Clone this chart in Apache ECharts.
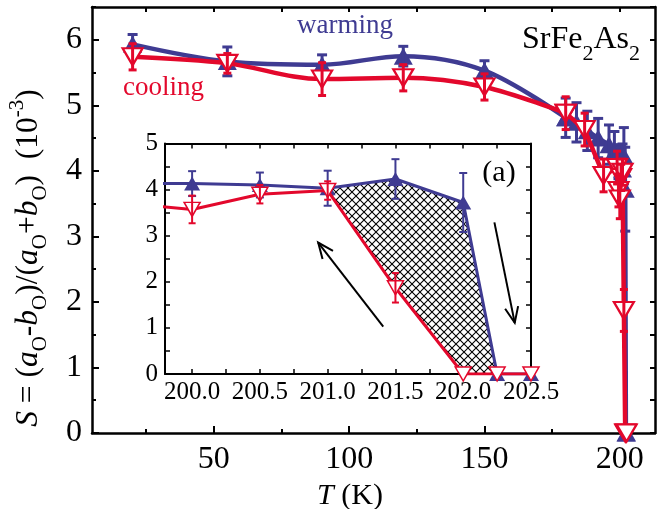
<!DOCTYPE html>
<html><head><meta charset="utf-8">
<script src="https://cdn.jsdelivr.net/npm/echarts@6/dist/echarts.min.js"></script>
<style>html,body{margin:0;padding:0;background:#fff}#c{width:658px;height:509px}</style>
</head><body><div id="c"></div>
<script>
// ---- data (T in K, S in 10^-3) ----
const warmT   = [20, 55, 90, 120, 150, 180, 184, 188, 192, 196, 198, 199.5, 200, 200.5, 201, 201.5, 202, 202.25, 202.5];
const warmS   = [5.93, 5.67, 5.62, 5.75, 5.53, 4.81, 4.74, 4.61, 4.5, 4.4, 4.3, 4.13, 4.13, 4.1, 4.03, 4.23, 3.72, 0, 0];
const warmErr = [0.15, 0.22, 0.15, 0.15, 0.15, 0.3, 0.3, 0.3, 0.3, 0.3, 0.3, 0.25, 0.27, 0.27, 0.38, 0.43, 0.64, 0, 0];
const coolT   = [20, 55, 90, 120, 150, 180, 187, 194, 199, 199.5, 200, 200.5, 201, 201.5, 202, 202.25, 202.5];
const coolS   = [5.74, 5.64, 5.4, 5.42, 5.28, 4.88, 4.63, 3.93, 4.05, 3.7, 3.57, 3.9, 3.98, 1.87, 0, 0, 0];
const coolErr = [0.2, 0.15, 0.25, 0.2, 0.2, 0.25, 0.25, 0.25, 0.25, 0.25, 0.3, 0.2, 0.2, 0.32, 0, 0, 0];
// tick labels
const mainXTicks = [50, 100, 150, 200];
const mainXMinor = [25, 75, 125, 175];
const mainYTicks = [0, 1, 2, 3, 4, 5, 6];
const mainYMinor = [0.5, 1.5, 2.5, 3.5, 4.5, 5.5, 6.5];
const insetXLabels = [200.0, 200.5, 201.0, 201.5, 202.0, 202.5];
const insetXTicks = [200, 200.25, 200.5, 200.75, 201, 201.25, 201.5, 201.75, 202, 202.25, 202.5];
// smooth part of the main curves ends at this temperature (straight segments after)
const smoothUpTo = 180;
// hysteresis region bounds (inset) and arrow annotations (inset data coords)
const hystFrom = 201.0, hystWarmTo = 202.25, hystCoolTo = 202.0;
const arrowLines = [[[201.41, 1.03], [200.93, 2.85]], [[202.23, 3.29], [202.38, 1.11]]];

const BLUE = '#3f3b92', RED = '#e3082c';
const FONT = 'Liberation Serif';

const hatchCanvas = (function () {
  const n = 8;
  const c = document.createElement('canvas'); c.width = n; c.height = n;
  const g = c.getContext('2d'); g.strokeStyle = '#000'; g.lineWidth = 1.1;
  g.beginPath(); g.moveTo(0, 0); g.lineTo(n, n); g.moveTo(n, 0); g.lineTo(0, n); g.stroke();
  return c;
})();

function zip3(a, b, c) { return a.map((v, i) => [v, b[i], c ? c[i] : 0]); }
function part(T, S, lo) { return zip3(T, S).filter(p => lo ? p[0] <= smoothUpTo : p[0] >= smoothUpTo); }

function errRender(color, lw, cap) {
  return function (params, api) {
    const cs = params.coordSys;
    const x = api.value(0), y = api.value(1), e = api.value(2);
    if (!e) return null;
    const p = api.coord([x, y]);
    if (p[0] < cs.x - 1 || p[0] > cs.x + cs.width + 1) return null;
    const lo = api.coord([x, y - e]), hi = api.coord([x, y + e]);
    const st = { stroke: color, lineWidth: lw };
    return { type: 'group', children: [
      { type: 'line', shape: { x1: p[0], y1: lo[1], x2: p[0], y2: hi[1] }, style: st },
      { type: 'line', shape: { x1: p[0] - cap / 2, y1: lo[1], x2: p[0] + cap / 2, y2: lo[1] }, style: st },
      { type: 'line', shape: { x1: p[0] - cap / 2, y1: hi[1], x2: p[0] + cap / 2, y2: hi[1] }, style: st }
    ] };
  };
}

function lbl(size, margin, fmt, extra) {
  return Object.assign({
    show: true, margin: margin, fontSize: size, fontFamily: FONT, color: '#000',
    formatter: v => { const s = fmt(v); return s === '' ? '' : '{t|' + s + '}'; },
    rich: { t: { fontSize: size, fontFamily: FONT, color: '#000' } }
  }, extra || {});
}

const chart = echarts.init(document.getElementById('c'), null, { renderer: 'canvas' });
chart.setOption({
  animation: false,
  backgroundColor: '#fff',
  textStyle: { fontFamily: FONT, color: '#000' },
  grid: [
    { left: 92, right: 3, top: 7, bottom: 76, outerBoundsMode: 'none' },
    { left: 165, right: 127, top: 143.5, bottom: 135, show: true, backgroundColor: '#fff', borderWidth: 0, outerBoundsMode: 'none' }
  ],
  xAxis: [
    { gridIndex: 0, type: 'value', min: 5, max: 213, position: 'bottom',
      axisLine: { show: true, onZero: false, lineStyle: { color: '#000', width: 2.5 } },
      axisTick: { show: true, inside: true, length: 7, customValues: mainXTicks, lineStyle: { color: '#000', width: 2 } },
      axisLabel: lbl(32, 11, v => String(v), { customValues: mainXTicks }),
      splitLine: { show: false } },
    { gridIndex: 0, type: 'value', min: 5, max: 213, position: 'bottom',
      axisLine: { show: false, onZero: false },
      axisTick: { show: true, inside: true, length: 4, customValues: mainXMinor, lineStyle: { color: '#000', width: 2 } },
      axisLabel: { show: false }, splitLine: { show: false } },
    { gridIndex: 0, type: 'value', min: 5, max: 213, position: 'top',
      axisLine: { show: true, onZero: false, lineStyle: { color: '#000', width: 2.5 } },
      axisTick: { show: true, inside: true, length: 5, customValues: mainXMinor.concat(mainXTicks), lineStyle: { color: '#000', width: 2 } },
      axisLabel: { show: false }, splitLine: { show: false } },
    { gridIndex: 1, type: 'value', min: 199.8, max: 202.5, position: 'bottom',
      axisLine: { show: true, onZero: false, lineStyle: { color: '#000', width: 2 } },
      axisTick: { show: true, inside: true, length: 5, customValues: insetXTicks, lineStyle: { color: '#000', width: 1.5 } },
      axisLabel: lbl(25, 6, v => Number(v).toFixed(1), { customValues: insetXLabels }),
      splitLine: { show: false } },
    { gridIndex: 1, type: 'value', min: 199.8, max: 202.5, position: 'top',
      axisLine: { show: true, onZero: false, lineStyle: { color: '#000', width: 2 } },
      axisTick: { show: true, inside: true, length: 5, customValues: insetXTicks, lineStyle: { color: '#000', width: 1.5 } },
      axisLabel: { show: false }, splitLine: { show: false } }
  ],
  yAxis: [
    { gridIndex: 0, type: 'value', min: 0, max: 6.5, position: 'left',
      axisLine: { show: true, onZero: false, lineStyle: { color: '#000', width: 2.5 } },
      axisTick: { show: true, inside: true, length: 7, customValues: mainYTicks, lineStyle: { color: '#000', width: 2 } },
      axisLabel: lbl(32, 10, v => String(v), { customValues: mainYTicks }),
      splitLine: { show: false } },
    { gridIndex: 0, type: 'value', min: 0, max: 6.5, position: 'left',
      axisLine: { show: false, onZero: false },
      axisTick: { show: true, inside: true, length: 4, customValues: mainYMinor, lineStyle: { color: '#000', width: 2 } },
      axisLabel: { show: false }, splitLine: { show: false } },
    { gridIndex: 0, type: 'value', min: 0, max: 6.5, position: 'right',
      axisLine: { show: true, onZero: false, lineStyle: { color: '#000', width: 2.5 } },
      axisTick: { show: true, inside: true, length: 5, customValues: mainYTicks.concat(mainYMinor), lineStyle: { color: '#000', width: 2 } },
      axisLabel: { show: false }, splitLine: { show: false } },
    { gridIndex: 1, type: 'value', min: 0, max: 5, interval: 0.5, position: 'left',
      axisLine: { show: true, onZero: false, lineStyle: { color: '#000', width: 2 } },
      axisTick: { show: true, inside: true, length: 5, lineStyle: { color: '#000', width: 1.5 } },
      axisLabel: lbl(25, 7, v => Number.isInteger(v) ? String(v) : ''),
      splitLine: { show: false } },
    { gridIndex: 1, type: 'value', min: 0, max: 5, interval: 0.5, position: 'right',
      axisLine: { show: true, onZero: false, lineStyle: { color: '#000', width: 2 } },
      axisTick: { show: true, inside: true, length: 5, lineStyle: { color: '#000', width: 1.5 } },
      axisLabel: { show: false }, splitLine: { show: false } }
  ],
  series: [
    // ---- main panel ----
    { type: 'line', xAxisIndex: 0, yAxisIndex: 0, z: 2, data: part(warmT, warmS, true),
      smooth: 0.35, symbol: 'triangle', symbolSize: [19, 17],
      itemStyle: { color: BLUE }, lineStyle: { color: BLUE, width: 4.5 } },
    { type: 'line', xAxisIndex: 0, yAxisIndex: 0, z: 2, data: part(warmT, warmS, false),
      smooth: false, symbol: 'triangle', symbolSize: [19, 17],
      itemStyle: { color: BLUE }, lineStyle: { color: BLUE, width: 4.5 } },
    { type: 'custom', xAxisIndex: 0, yAxisIndex: 0, z: 3, data: zip3(warmT, warmS, warmErr),
      renderItem: errRender(BLUE, 3, 10) },
    { type: 'line', xAxisIndex: 0, yAxisIndex: 0, z: 4, data: part(coolT, coolS, true),
      smooth: 0.35, symbol: 'triangle', symbolRotate: 180, symbolSize: [20, 17],
      itemStyle: { color: '#fff', borderColor: RED, borderWidth: 2.2 }, lineStyle: { color: RED, width: 4.5 } },
    { type: 'line', xAxisIndex: 0, yAxisIndex: 0, z: 4, data: part(coolT, coolS, false),
      smooth: false, symbol: 'triangle', symbolRotate: 180, symbolSize: [20, 17],
      itemStyle: { color: '#fff', borderColor: RED, borderWidth: 2.2 }, lineStyle: { color: RED, width: 4.5 } },
    { type: 'custom', xAxisIndex: 0, yAxisIndex: 0, z: 5, data: zip3(coolT, coolS, coolErr),
      renderItem: errRender(RED, 3, 8) },
    // ---- inset panel ----
    { type: 'custom', xAxisIndex: 3, yAxisIndex: 3, z: 6, data: [[hystFrom, 0]],
      renderItem: function (params, api) {
        const pts = [];
        warmT.forEach((t, i) => { if (t >= hystFrom && t <= hystWarmTo) pts.push(api.coord([t, warmS[i]])); });
        for (let i = coolT.length - 1; i >= 0; i--) {
          if (coolT[i] >= hystFrom && coolT[i] <= hystCoolTo) pts.push(api.coord([coolT[i], coolS[i]]));
        }
        return { type: 'polygon', shape: { points: pts }, style: { fill: { image: hatchCanvas, repeat: 'repeat' }, stroke: null } };
      } },
    { type: 'line', xAxisIndex: 3, yAxisIndex: 3, z: 7, data: zip3(warmT, warmS), clip: true,
      symbol: 'triangle', symbolSize: [16, 14],
      itemStyle: { color: BLUE }, lineStyle: { color: BLUE, width: 3 } },
    { type: 'custom', xAxisIndex: 3, yAxisIndex: 3, z: 8, data: zip3(warmT, warmS, warmErr),
      renderItem: errRender(BLUE, 2, 8) },
    { type: 'line', xAxisIndex: 3, yAxisIndex: 3, z: 9, data: zip3(coolT, coolS), clip: true,
      symbol: 'triangle', symbolRotate: 180, symbolSize: [16, 14],
      itemStyle: { color: '#fff', borderColor: RED, borderWidth: 1.5 }, lineStyle: { color: RED, width: 3 } },
    { type: 'custom', xAxisIndex: 3, yAxisIndex: 3, z: 10, data: zip3(coolT, coolS, coolErr),
      renderItem: errRender(RED, 2, 7) },
    { type: 'custom', xAxisIndex: 3, yAxisIndex: 3, z: 11, data: arrowLines.map(a => [a[0][0], a[0][1]]),
      renderItem: function (params, api) {
        const a = arrowLines[params.dataIndex];
        const s = api.coord(a[0]), h = api.coord(a[1]);
        const ang = Math.atan2(s[1] - h[1], s[0] - h[0]);
        const L = 17, da = 0.4;
        const p1 = [h[0] + L * Math.cos(ang + da), h[1] + L * Math.sin(ang + da)];
        const p2 = [h[0] + L * Math.cos(ang - da), h[1] + L * Math.sin(ang - da)];
        const st = { stroke: '#000', lineWidth: 2, fill: null };
        return { type: 'group', children: [
          { type: 'line', shape: { x1: s[0], y1: s[1], x2: h[0], y2: h[1] }, style: st },
          { type: 'polyline', shape: { points: [p1, h, p2] }, style: st }
        ] };
      } }
  ],
  graphic: [
    { type: 'text', x: 29, y: 258, rotation: Math.PI / 2, z: 100,
      style: { text: '{i|S}{n| = (}{i|a}{sb|O}{n|-}{i|b}{sb|O}{n|)/(}{i|a}{sb|O}{n|+}{i|b}{sb|O}{n|)  (10}{sp|-3}{n|)}',
        align: 'center', verticalAlign: 'middle', fill: '#000',
        rich: {
          n: { fontSize: 31.5, fontFamily: FONT, lineHeight: 44, verticalAlign: 'middle', fill: '#000' },
          i: { fontSize: 31.5, fontFamily: FONT, fontStyle: 'italic', lineHeight: 44, verticalAlign: 'middle', fill: '#000' },
          sb: { fontSize: 21, fontFamily: FONT, lineHeight: 21, verticalAlign: 'bottom', fill: '#000' },
          sp: { fontSize: 21, fontFamily: FONT, lineHeight: 21, verticalAlign: 'top', fill: '#000' }
        } } },
    { type: 'text', x: 350, y: 496, z: 100,
      style: { text: '{i|T}{n| (K)}', align: 'center', verticalAlign: 'middle',
        rich: {
          n: { fontSize: 30, fontFamily: FONT, fill: '#000' },
          i: { fontSize: 30, fontFamily: FONT, fontStyle: 'italic', fill: '#000' }
        } } },
    { type: 'text', x: 297, y: 26, z: 100,
      style: { text: 'warming', fontSize: 27, fontFamily: FONT, fill: BLUE, align: 'left', verticalAlign: 'middle' } },
    { type: 'text', x: 123, y: 88, z: 100,
      style: { text: 'cooling', fontSize: 27, fontFamily: FONT, fill: RED, align: 'left', verticalAlign: 'middle' } },
    { type: 'text', x: 522, y: 40, z: 100,
      style: { text: '{n|SrFe}{s|2}{n|As}{s|2}', align: 'left', verticalAlign: 'middle',
        rich: {
          n: { fontSize: 32, fontFamily: FONT, lineHeight: 50, verticalAlign: 'middle', fill: '#000' },
          s: { fontSize: 22, fontFamily: FONT, lineHeight: 22, verticalAlign: 'bottom', fill: '#000' }
        } } },
    { type: 'text', x: 499, y: 173, z: 100,
      style: { text: '(a)', fontSize: 30, fontFamily: FONT, fill: '#000', align: 'center', verticalAlign: 'middle' } }
  ]
});
</script>
</body></html>
